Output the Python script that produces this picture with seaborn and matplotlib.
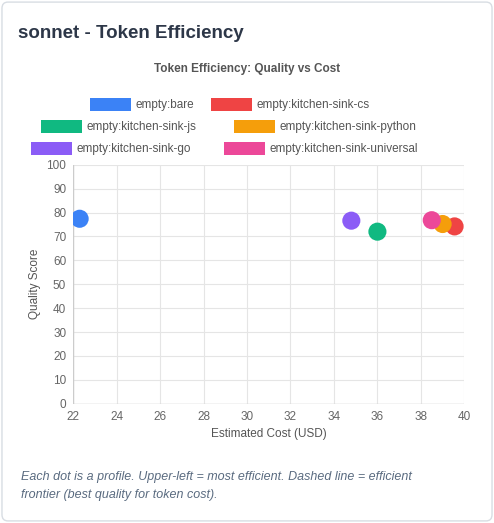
import matplotlib
matplotlib.use("Agg")
import matplotlib.pyplot as plt
import seaborn as sns
import pandas as pd
from matplotlib.patches import FancyBboxPatch, Rectangle

profiles = ["empty:bare", "empty:kitchen-sink-cs", "empty:kitchen-sink-js",
            "empty:kitchen-sink-python", "empty:kitchen-sink-go", "empty:kitchen-sink-universal"]
cost = [22.3, 39.55, 36.0, 39.0, 34.8, 38.5]
quality = [77.4, 74.2, 72.0, 75.2, 76.6, 76.8]
colors = ["#3b82f6", "#ef4444", "#10b981", "#f59e0b", "#8b5cf6", "#ec4899"]

df = pd.DataFrame({"profile": profiles, "cost": cost, "quality": quality})

sns.set_style("white")
plt.rcParams["font.family"] = ["Liberation Sans", "DejaVu Sans"]

fig = plt.figure(figsize=(4.94, 5.23), dpi=100)
card = FancyBboxPatch((0.004, 0.004), 0.992, 0.992, boxstyle="round,pad=0,rounding_size=0.012",
                      transform=fig.transFigure, fc="white", ec="#d8dde3", lw=1, zorder=-10)
fig.patches.append(card)
fig.text(0.036, 0.928, "sonnet - Token Efficiency", fontsize=13.5, weight="bold", color="#2d3748")
fig.text(0.5, 0.862, "Token Efficiency: Quality vs Cost", fontsize=8.5, weight="bold", color="#555", ha="center")

# legend rows, chart.js style
rows = [[0, 1], [2, 3], [4, 5]]
row_y = [0.799, 0.757, 0.715]
for r, y in zip(rows, row_y):
    widths = [len(profiles[i]) * 0.0133 + 0.112 for i in r]
    x = 0.5 - sum(widths) / 2
    for i, w in zip(r, widths):
        fig.patches.append(Rectangle((x, y - 0.012), 0.083, 0.026, transform=fig.transFigure,
                                     fc=colors[i], ec="none"))
        fig.text(x + 0.093, y + 0.001, profiles[i], fontsize=8.5, color="#555", va="center")
        x += w

ax = fig.add_axes([0.148, 0.228, 0.792, 0.457])
sns.scatterplot(data=df, x="cost", y="quality", hue="profile", palette=colors,
                s=170, edgecolor="none", legend=False, ax=ax, zorder=3)
ax.set_xlim(22, 40)
ax.set_ylim(0, 100)
ax.set_xticks(range(22, 41, 2))
ax.set_yticks(range(0, 101, 10))
ax.grid(True, color="#e5e5e5", lw=0.8)
for s in ax.spines.values():
    s.set_visible(False)
ax.axhline(0, color="#cccccc", lw=1)
ax.axvline(22, color="#cccccc", lw=1)
ax.tick_params(labelsize=8.5, colors="#666", length=0, pad=5)
ax.set_xlabel("Estimated Cost (USD)", fontsize=8.5, color="#555")
ax.set_ylabel("Quality Score", fontsize=8.5, color="#555")

fig.text(0.042, 0.048, "Each dot is a profile. Upper-left = most efficient. Dashed line = efficient\n"
         "frontier (best quality for token cost).", fontsize=9, style="italic",
         color="#5a6b80", linespacing=1.6)

fig.savefig("out.png", dpi=100)
